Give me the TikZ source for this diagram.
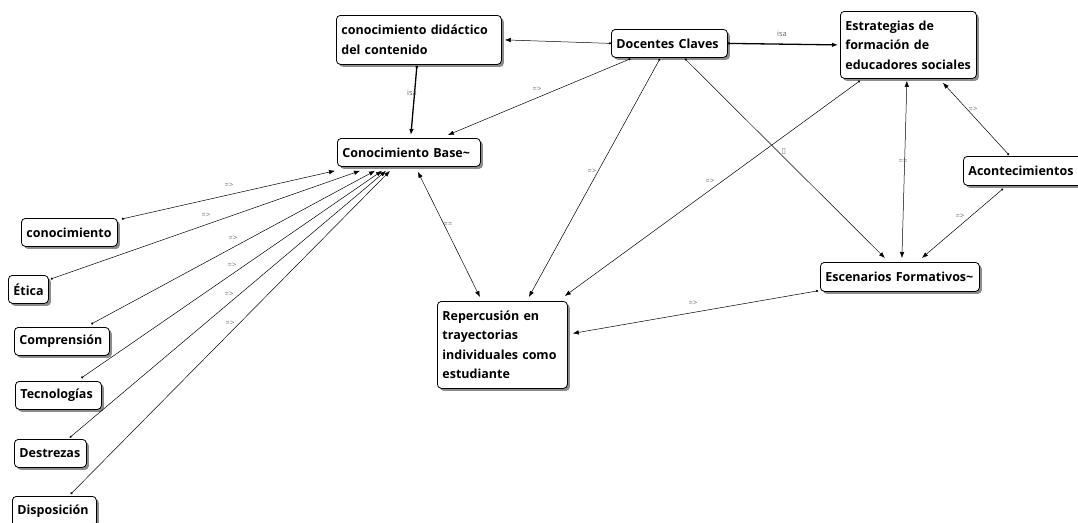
\documentclass[tikz,border=0pt]{standalone}
\usepackage{fontspec}
\setmainfont{Open Sans}
\newfontfamily\symfont{DejaVu Sans}
\usetikzlibrary{arrows.meta,shadows}
\begin{document}
\begin{tikzpicture}[x=1pt,y=-1pt,
  concept/.style={draw=black, line width=0.8pt, rounded corners=4pt, fill=white, anchor=north west,
    inner xsep=5pt, inner ysep=2pt, align=left, font=\fontsize{12.5}{19.5}\selectfont\bfseries,
    drop shadow={shadow xshift=2.5pt, shadow yshift=-2.5pt, fill=black, opacity=0.45}},
  link/.style={line width=0.5pt, {Circle[length=2.2pt]}-{Latex[length=6pt,width=4.5pt]}},
  both/.style={line width=0.5pt, {Latex[length=6pt,width=4.5pt]}-{Latex[length=6pt,width=4.5pt]}},
  isa/.style={line width=1.3pt, {Circle[length=2.5pt]}-{Latex[length=6pt,width=4.5pt]}},
  lbl/.style={font=\fontsize{7.5}{8}\selectfont, text=black!60, inner sep=0pt}
]
\useasboundingbox (0,0) rectangle (1078,522);

% concepts
\node[concept, text width=155pt, minimum height=49pt] (cdc) at (336,15) {conocimiento didáctico\\del contenido};
\node[concept, text width=106pt, minimum height=28pt] (doc) at (611,29) {Docentes Claves};
\node[concept, text width=126pt, minimum height=67pt] (est) at (840,11) {Estrategias de\\formación de\\educadores sociales};
\node[concept, text width=133pt, minimum height=28pt] (base) at (337,138) {Conocimiento Base\textasciitilde};
\node[concept, text width=115pt, minimum height=29pt] (acon) at (963,156) {Acontecimientos};
\node[concept, text width=149pt, minimum height=29pt] (esc) at (820,262) {Escenarios Formativos\textasciitilde};
\node[concept, text width=120pt, minimum height=87pt] (rep) at (437,301) {Repercusión en\\trayectorias\\individuales como\\estudiante};
\node[concept, text width=86pt, minimum height=28pt] (con) at (21,218) {conocimiento};
\node[concept, text width=30pt, minimum height=28pt] (eti) at (8,275) {Ética};
\node[concept, text width=85pt, minimum height=28pt] (com) at (14,327) {Comprensión};
\node[concept, text width=76pt, minimum height=28pt] (tec) at (15,381) {Tecnologías};
\node[concept, text width=62pt, minimum height=28pt] (des) at (14,439) {Destrezas};
\node[concept, text width=74pt, minimum height=30pt] (dis) at (12,496) {Disposición};

% connectors
\draw[link] (doc.west) -- ([xshift=3pt]cdc.east);
\draw[isa] (doc.east) -- ([xshift=-2pt]est.west);
\draw[isa] ([xshift=-2pt,yshift=-1pt]cdc.south) -- ([xshift=2pt,yshift=3pt]base.north);
\draw[link] ([xshift=-39pt,yshift=-1pt]doc.south) -- ([xshift=39pt,yshift=3pt]base.north);
\draw[link] ([xshift=-9.5pt,yshift=-1pt]doc.south) -- ([xshift=26.5pt,yshift=4pt]rep.north);
\draw[link] ([xshift=15.5pt,yshift=-1pt]doc.south) -- ([xshift=-15pt,yshift=4pt]esc.north);
\draw[link] ([xshift=-48.5pt,yshift=-2pt]est.south) -- ([xshift=-3pt,yshift=5pt]rep.north east);
\draw[both] ([xshift=-1.5pt,yshift=-2pt]est.south) -- ([xshift=2pt,yshift=4pt]esc.north);
\draw[link] ([xshift=46pt,yshift=1pt]acon.north west) -- ([xshift=34.5pt,yshift=-4pt]est.south);
\draw[link] ([xshift=40pt,yshift=-3pt]acon.south west) -- ([xshift=22pt,yshift=4pt]esc.north);
\draw[link] ([xshift=-2pt,yshift=1pt]esc.south west) -- ([xshift=5pt,yshift=11.5pt]rep.east);
\draw[both] ([xshift=9pt,yshift=-5pt]base.south) -- ([xshift=-22.5pt,yshift=4pt]rep.north);
\draw[link] ([xshift=4pt,yshift=-1pt]con.north east) -- ([xshift=-2pt,yshift=-4pt]base.south west);
\draw[link] ([xshift=2pt,yshift=-4pt]eti.north east) -- ([xshift=23pt,yshift=-4pt]base.south west);
\draw[link] ([xshift=-18.5pt,yshift=3pt]com.north east) -- ([xshift=38pt,yshift=-4pt]base.south west);
\draw[link] ([xshift=-20.5pt,yshift=3pt]tec.north east) -- ([xshift=45pt,yshift=-4pt]base.south west);
\draw[link] ([xshift=-17pt,yshift=1.5pt]des.north east) -- ([xshift=49pt,yshift=-4pt]base.south west);
\draw[link] ([xshift=-26pt,yshift=2pt]dis.north east) -- ([xshift=53pt,yshift=-4pt]base.south west);

% labels
\node[lbl] (l1) at (537,89) {=>};
\node[lbl] (l2) at (412,93) {isa};
\node[lbl] (l3) at (592,171) {=>};
\node[lbl] (l4) at (710,181) {=>};
\node[lbl] (l5) at (784,152) {\symfont ▯};
\node[lbl] (l6) at (782,34) {isa};
\node[lbl] (l7) at (903,162) {==};
\node[lbl] (l8) at (973,109) {=>};
\node[lbl] (l9) at (960,216) {=>};
\node[lbl] (l10) at (693,303) {=>};
\node[lbl] (l11) at (448,225) {==};
\node[lbl] (l12) at (229,185) {=>};
\node[lbl] (l13) at (206,215) {=>};
\node[lbl] (l14) at (233,238) {=>};
\node[lbl] (l15) at (232,265) {=>};
\node[lbl] (l16) at (229,294) {=>};
\node[lbl] (l17) at (230,323) {=>};
\end{tikzpicture}
\end{document}
